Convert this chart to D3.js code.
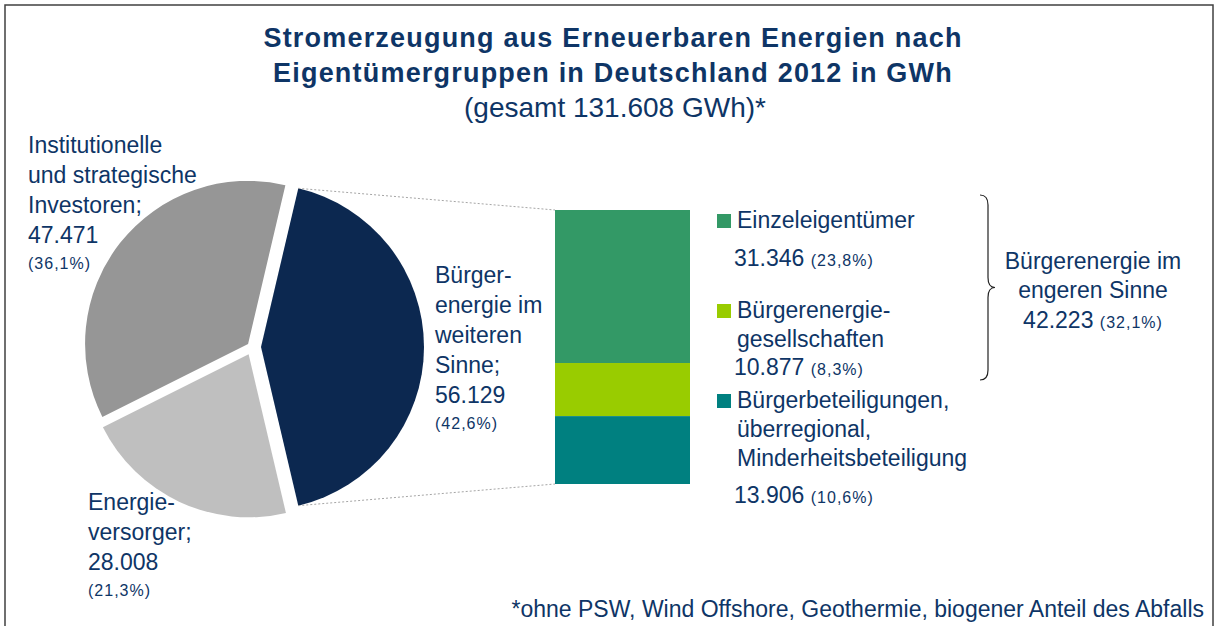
<!DOCTYPE html>
<html>
<head>
<meta charset="utf-8">
<script src="https://cdn.jsdelivr.net/npm/d3@7"></script>
<style>
  body { margin: 0; background: #fff; }
  svg { display: block; font-family: "Liberation Sans", Arial, sans-serif; }
</style>
</head>
<body>
<svg width="1216" height="626"></svg>
<script>
// owner groups (pie), in drawing order clockwise from the top right
var groups = ["Bürgerenergie im weiteren Sinne", "Energieversorger", "Institutionelle und strategische Investoren"];
var groupValues = [56129, 28008, 47471];
var groupLines = [["Bürger-", "energie im", "weiteren", "Sinne;"],
                  ["Energie-", "versorger;"],
                  ["Institutionelle", "und strategische", "Investoren;"]];
// break-down of the first group (stacked bar)
var parts = ["Einzeleigentümer", "Bürgerenergiegesellschaften", "Bürgerbeteiligungen"];
var partValues = [31346, 10877, 13906];
var partLines = [["Einzeleigentümer"],
                 ["Bürgerenergie-", "gesellschaften"],
                 ["Bürgerbeteiligungen,", "überregional,", "Minderheitsbeteiligung"]];
var titleLines = ["Stromerzeugung aus Erneuerbaren Energien nach",
                  "Eigentümergruppen in Deutschland 2012 in GWh"];
var footnote = "*ohne PSW, Wind Offshore, Geothermie, biogener Anteil des Abfalls";

var ink = "#0e3566";
var pieColors = ["#0c2850", "#bfbfbf", "#969696"];
var barColors = ["#339966", "#99cc00", "#008080"];
var big = 23, small = 16;

var de = d3.formatLocale({ decimal: ",", thousands: ".", grouping: [3], currency: ["", "€"] });
var fmtNum = de.format(",d"), fmtPct = de.format(".1f");
var total = d3.sum(groupValues);
var pct = v => "(" + fmtPct(v / total * 100) + "%)";

var svg = d3.select("svg");

// frame
svg.append("rect").attr("x", 5).attr("y", 5).attr("width", 1208).attr("height", 700)
    .attr("fill", "none").attr("stroke", "#404040").attr("stroke-width", 1.5);

// titles
svg.selectAll("text.title").data(titleLines).enter().append("text")
    .attr("class", "title")
    .attr("x", 613).attr("y", (d, i) => 47 + i * 35)
    .attr("text-anchor", "middle").attr("fill", ink)
    .attr("font-size", 27).attr("font-weight", "bold").attr("letter-spacing", 1.2)
    .text(d => d);
svg.append("text").attr("x", 615).attr("y", 117).attr("text-anchor", "middle")
    .attr("fill", ink).attr("font-size", 28)
    .text("(gesamt " + fmtNum(total) + " GWh)*");

// pie
var cx = 252, cy = 347, r = 163;
var blueSpan = groupValues[0] / total * 2 * Math.PI;
var start = Math.PI / 2 - blueSpan / 2;
var pie = d3.pie().sort(null).startAngle(start).endAngle(start + 2 * Math.PI);
var arc = d3.arc().innerRadius(0).outerRadius(r);
var explode = [9, 8, 5];
var slices = pie(groupValues);
slices.forEach(function(s, i) {
    var a = (s.startAngle + s.endAngle) / 2;
    s.dx = Math.sin(a) * explode[i];
    s.dy = -Math.cos(a) * explode[i];
});
svg.append("g").attr("transform", "translate(" + cx + "," + cy + ")")
    .selectAll("path").data(slices).enter().append("path")
    .attr("transform", d => "translate(" + d.dx + "," + d.dy + ")")
    .attr("d", arc).attr("fill", (d, i) => pieColors[i]);

// stacked bar
var barX = 555, barW = 135;
var y = d3.scaleLinear().domain([0, d3.sum(partValues)]).range([210, 484]);
var stack = d3.cumsum([0].concat(partValues));
svg.append("g").selectAll("rect").data(partValues).enter().append("rect")
    .attr("x", barX).attr("width", barW)
    .attr("y", (d, i) => y(stack[i]))
    .attr("height", d => y(d) - y(0))
    .attr("fill", (d, i) => barColors[i]);

// connector lines from the exploded slice to the bar
var b = slices[0];
[[b.startAngle, 0], [b.endAngle, d3.sum(partValues)]].forEach(function(p) {
    svg.append("line")
        .attr("x1", cx + b.dx + Math.sin(p[0]) * r)
        .attr("y1", cy + b.dy - Math.cos(p[0]) * r)
        .attr("x2", barX).attr("y2", y(p[1]))
        .attr("stroke", "#a6a6a6").attr("stroke-width", 1)
        .attr("stroke-dasharray", "2,2");
});

// multi-line label helper
function label(g, x, y0, lines, step) {
    var t = g.append("text").attr("fill", ink);
    lines.forEach(function(l, i) {
        t.append("tspan").attr("x", x).attr("y", y0 + i * step).attr("font-size", big).text(l);
    });
    return t;
}

// pie labels
var pieLabelPos = [[435, 283], [88, 510], [28, 153]];
groupLines.forEach(function(lines, i) {
    var p = pieLabelPos[i];
    var t = label(svg, p[0], p[1], lines, 30);
    var n = lines.length;
    t.append("tspan").attr("x", p[0]).attr("y", p[1] + n * 30).attr("font-size", big)
        .text(fmtNum(groupValues[i]));
    t.append("tspan").attr("x", p[0]).attr("y", p[1] + n * 30 + 26).attr("font-size", small)
        .attr("letter-spacing", 1).text(pct(groupValues[i]));
});

// legend for the bar
var legTop = [228, 318, 408];
var numY = [266, 375, 503];
var legend = svg.append("g");
partLines.forEach(function(lines, i) {
    legend.append("rect").attr("x", 717).attr("y", legTop[i] - 14)
        .attr("width", 14).attr("height", 14).attr("fill", barColors[i]);
    label(legend, 737, legTop[i], lines, 29);
    var t = legend.append("text").attr("x", 734).attr("y", numY[i]).attr("fill", ink);
    t.append("tspan").attr("font-size", big).text(fmtNum(partValues[i]) + " ");
    t.append("tspan").attr("font-size", small).attr("letter-spacing", 1).text(pct(partValues[i]));
});

// brace for the narrower definition (first two parts)
var bTop = 195, bBot = 380, bx = 980, bMid = (bTop + bBot) / 2;
svg.append("path")
    .attr("d", "M" + bx + "," + bTop + " Q" + (bx + 8) + "," + bTop + " " + (bx + 8) + "," + (bTop + 10) +
        " L" + (bx + 8) + "," + (bMid - 10) + " Q" + (bx + 8) + "," + bMid + " " + (bx + 15) + "," + bMid +
        " Q" + (bx + 8) + "," + bMid + " " + (bx + 8) + "," + (bMid + 10) +
        " L" + (bx + 8) + "," + (bBot - 10) + " Q" + (bx + 8) + "," + bBot + " " + bx + "," + bBot)
    .attr("fill", "none").attr("stroke", "#222").attr("stroke-width", 1.2);

var narrow = partValues[0] + partValues[1];
var nt = svg.append("text").attr("fill", ink).attr("text-anchor", "middle");
nt.append("tspan").attr("x", 1093).attr("y", 269).attr("font-size", big).text("Bürgerenergie im");
nt.append("tspan").attr("x", 1093).attr("y", 298).attr("font-size", big).text("engeren Sinne");
var nt3 = nt.append("tspan").attr("x", 1093).attr("y", 328);
nt3.append("tspan").attr("font-size", big).text(fmtNum(narrow) + " ");
nt3.append("tspan").attr("font-size", small).attr("letter-spacing", 1).text(pct(narrow));

// footnote
svg.append("text").attr("x", 1204).attr("y", 617).attr("text-anchor", "end")
    .attr("fill", ink).attr("font-size", 23).text(footnote);
</script>
</body>
</html>
